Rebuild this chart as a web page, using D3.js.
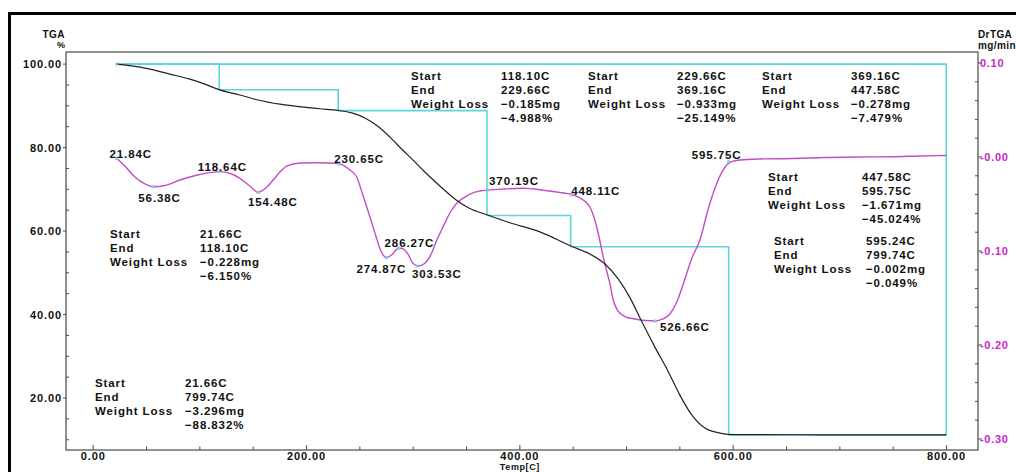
<!DOCTYPE html>
<html>
<head>
<meta charset="utf-8">
<script src="https://cdn.jsdelivr.net/npm/d3@7"></script>
<style>
  html, body { margin: 0; padding: 0; background: #fff; }
  svg { display: block; }
  text { font-family: "Liberation Sans", Arial, sans-serif; font-weight: bold; }
</style>
</head>
<body>
<svg id="chart" width="1016" height="472"></svg>
<script>
// ---- TGA curve (weight %, vs temperature C)
const tgaTemp = [22.2, 34.4, 53.2, 71.9, 90.7, 104.7, 117.8, 137.5, 154.4, 175, 193.7, 212.5, 229.4, 242.5, 254.7, 266.9, 278.2, 289.4, 300.6, 311.9, 325, 339, 353.1, 369, 390.6, 418.8, 448.8, 465.7, 479.8, 492, 503.3, 514.5, 526.6, 538.8, 550, 561.3, 573.5, 587.5, 601.6, 662.5, 730, 799.7];
const tgaPct = [100, 99.64, 98.8, 97.6, 96.4, 95.2, 93.9, 92.6, 91.4, 90.4, 89.8, 89.3, 88.9, 88.3, 87.1, 85.1, 82.5, 79.6, 76.8, 73.9, 70.8, 67.7, 65.4, 63.9, 62.0, 59.8, 56.3, 54.5, 52.1, 48.6, 44.0, 38.2, 32.2, 26.5, 20.7, 15.9, 12.8, 11.6, 11.22, 11.2, 11.18, 11.17];

// ---- DrTGA curve (mg/min, vs temperature C)
const dtgTemp = [21.9, 29.7, 39.1, 48.5, 56.3, 67.2, 81.3, 100, 118.8, 130, 137.5, 146.9, 154.7, 161.9, 168.7, 175, 181.3, 193.8, 206.3, 222, 231.3, 240.6, 246.9, 252.8, 259.4, 265, 269.7, 275, 280, 284.7, 288.4, 295, 299.7, 304.7, 311, 317.2, 322.2, 328.1, 334.4, 340.7, 348.5, 354.8, 362.5, 370.3, 386, 403.1, 423.5, 437.5, 450, 459.4, 465.7, 469.4, 473.2, 478.1, 481.6, 484.4, 487.5, 491.9, 498.5, 507.9, 517.3, 526.6, 534.1, 540.7, 547.2, 553.8, 561.3, 568.8, 576.3, 582.9, 590.6, 598.5, 606.3, 625, 656, 687.6, 718.8, 749.7, 775, 800];
const dtgVal = [-0.0014, -0.0096, -0.0213, -0.0287, -0.0316, -0.0303, -0.0245, -0.0186, -0.0156, -0.0181, -0.0227, -0.0309, -0.0376, -0.033, -0.0245, -0.016, -0.0096, -0.0064, -0.0061, -0.0064, -0.0074, -0.0138, -0.021, -0.0404, -0.0635, -0.084, -0.1, -0.107, -0.104, -0.098, -0.097, -0.103, -0.113, -0.116, -0.113, -0.1024, -0.0883, -0.0741, -0.0596, -0.0493, -0.0426, -0.0386, -0.0362, -0.0351, -0.034, -0.0333, -0.0356, -0.0378, -0.0404, -0.0457, -0.0532, -0.0638, -0.0798, -0.106, -0.1223, -0.1344, -0.1521, -0.1638, -0.1697, -0.1723, -0.174, -0.1745, -0.1723, -0.167, -0.154, -0.133, -0.1074, -0.0883, -0.0564, -0.0333, -0.0138, -0.005, -0.0032, -0.0021, -0.0016, -0.0005, 0, 0.0003, 0.0011, 0.0016];

// ---- DrTGA peak temperatures and their curve values
const peakTemp = [21.84, 56.38, 118.64, 154.48, 230.65, 274.87, 286.27, 303.53, 370.19, 448.11, 526.66, 595.75];
const peakVal = [-0.0014, -0.0316, -0.0156, -0.0376, -0.0074, -0.107, -0.097, -0.116, -0.0351, -0.0404, -0.1745, -0.005];

// ---- weight-loss steps
const stepStart = [21.66, 118.10, 229.66, 369.16, 447.58, 595.24];
const stepEnd = [118.10, 229.66, 369.16, 447.58, 595.75, 799.74];
const stepLossMg = [-0.228, -0.185, -0.933, -0.278, -1.671, -0.002];
const stepLossPct = [-6.150, -4.988, -25.149, -7.479, -45.024, -0.049];
// overall loss
const totalStart = 21.66, totalEnd = 799.74, totalLossMg = -3.296, totalLossPct = -88.832;

// ---- axis ticks
const xTicks = [0, 200, 400, 600, 800];
const xTickLabels = ["0.00", "200.00", "400.00", "600.00", "800.00"];
const yLeftTicks = [20, 40, 60, 80, 100];
const yLeftTickLabels = ["20.00", "40.00", "60.00", "80.00", "100.00"];
const yRightTicks = [-0.3, -0.2, -0.1, 0, 0.1];
const yRightTickLabels = ["-0.30", "-0.20", "-0.10", "-0.00", "0.10"];

// ---------------------------------------------------------------
const svg = d3.select("#chart");
const L = 66, R = 978, T = 52, B = 450;
const x = d3.scaleLinear().domain([-25.5, 829.5]).range([L, R]);
const yL = d3.scaleLinear().domain([7.55, 102.9]).range([B, T]);
const yR = d3.scaleLinear().domain([-0.3117, 0.1117]).range([B, T]);

const AX = "#4a4a4a";
const CYAN = "#5ad6dc";
const MAG = "#c24cc6";
const MAGTXT = "#cc22cc";
const FS = 11.5, LS = 0.9;

// outer frame
svg.append("path").attr("d", "M9.5,472 V13.5 H1016").attr("fill", "none")
  .attr("stroke", "#000").attr("stroke-width", 3);

// plot box
svg.append("rect").attr("x", L).attr("y", T).attr("width", R - L).attr("height", B - T)
  .attr("fill", "none").attr("stroke", AX).attr("stroke-width", 1.2);

// x axis ticks (pointing inward)
const gx = svg.append("g");
d3.range(0, 801, 50).forEach(v => {
  const major = xTicks.includes(v);
  gx.append("line").attr("x1", x(v)).attr("x2", x(v)).attr("y1", B).attr("y2", B - (major ? 5 : 3.5))
    .attr("stroke", AX).attr("stroke-width", 1);
});
gx.selectAll("text.xl").data(xTicks).enter().append("text")
  .attr("x", d => x(d)).attr("y", 459.5).attr("text-anchor", "middle")
  .attr("font-size", 11).attr("letter-spacing", 0.9).attr("fill", "#111")
  .text((d, i) => xTickLabels[i]);
svg.append("text").attr("x", x(400)).attr("y", 470).attr("text-anchor", "middle")
  .attr("font-size", 9).attr("letter-spacing", 0.6).attr("fill", "#111").text("Temp[C]");

// left axis ticks
const gl = svg.append("g");
d3.range(10, 101, 5).forEach(v => {
  const major = yLeftTicks.includes(v);
  if (major) {
    gl.append("line").attr("x1", L - 3).attr("x2", L).attr("y1", yL(v)).attr("y2", yL(v)).attr("stroke", AX);
  } else {
    gl.append("line").attr("x1", L).attr("x2", L + 3).attr("y1", yL(v)).attr("y2", yL(v)).attr("stroke", AX);
  }
});
gl.selectAll("text").data(yLeftTicks).enter().append("text")
  .attr("x", L - 4).attr("y", d => yL(d) + 4).attr("text-anchor", "end")
  .attr("font-size", 11).attr("letter-spacing", 0.9).attr("fill", "#111")
  .text((d, i) => yLeftTickLabels[i]);
svg.append("text").attr("x", 65).attr("y", 38).attr("text-anchor", "end")
  .attr("font-size", 10).attr("letter-spacing", 0.5).attr("fill", "#111").text("TGA");
svg.append("text").attr("x", 61).attr("y", 48).attr("text-anchor", "middle")
  .attr("font-size", 9).attr("fill", "#111").text("%");

// right axis ticks
const gr = svg.append("g");
d3.range(-30, 11, 2).forEach(k => {
  const v = k / 100;
  const major = k % 10 === 0;
  if (major) {
    gr.append("line").attr("x1", R).attr("x2", R + 4).attr("y1", yR(v)).attr("y2", yR(v)).attr("stroke", AX);
  } else {
    gr.append("line").attr("x1", R - 3).attr("x2", R).attr("y1", yR(v)).attr("y2", yR(v)).attr("stroke", AX);
  }
});
gr.selectAll("text").data(yRightTicks).enter().append("text")
  .attr("x", R + 2).attr("y", d => yR(d) + 4).attr("text-anchor", "start")
  .attr("font-size", 11).attr("letter-spacing", 0.7).attr("fill", MAGTXT)
  .text((d, i) => yRightTickLabels[i]);
svg.append("text").attr("x", 978).attr("y", 38).attr("font-size", 10)
  .attr("letter-spacing", 0.4).attr("fill", "#111").text("DrTGA");
svg.append("text").attr("x", 978).attr("y", 49).attr("font-size", 10)
  .attr("letter-spacing", 0.4).attr("fill", "#111").text("mg/min");

// cyan weight-loss steps
const levels = [100];
stepLossPct.forEach(p => levels.push(levels[levels.length - 1] + p));
const gc = svg.append("g").attr("fill", "none").attr("stroke", CYAN).attr("stroke-width", 1.6);
for (let i = 0; i < stepStart.length - 1; i++) {
  gc.append("path").attr("d",
    `M${x(stepStart[i])},${yL(levels[i])} H${x(stepEnd[i])} V${yL(levels[i + 1])}`);
}
const last = stepStart.length - 1;
gc.append("path").attr("d",
  `M${x(totalStart)},${yL(100)} H${x(totalEnd)} V${yL(100 + totalLossPct)} H${x(stepStart[last])}`);

// DrTGA curve
const lineR = d3.line().x(d => x(d[0])).y(d => yR(d[1])).curve(d3.curveMonotoneX);
svg.append("path").datum(d3.zip(dtgTemp, dtgVal)).attr("d", lineR)
  .attr("fill", "none").attr("stroke", MAG).attr("stroke-width", 1.4);

// TGA curve
const lineL = d3.line().x(d => x(d[0])).y(d => yL(d[1])).curve(d3.curveMonotoneX);
svg.append("path").datum(d3.zip(tgaTemp, tgaPct)).attr("d", lineL)
  .attr("fill", "none").attr("stroke", "#222").attr("stroke-width", 1.2);
// start marker of TGA
svg.append("path").attr("d", `M${x(tgaTemp[0]) - 2},${yL(100)} h4 M${x(tgaTemp[0])},${yL(100) - 2} v4`)
  .attr("stroke", "#7fb8d8").attr("stroke-width", 1);

// peak markers and labels
const peakOffsets = [[-7, 0], [-15, 15], [-22, -1], [-10, 14], [-5, -1], [-30, 15],
                     [-14, -1], [-5, 12], [1, -5], [0, 0], [5, 10], [-37, -3]];
const gp = svg.append("g");
peakTemp.forEach((t, i) => {
  const px = x(t), py = yR(peakVal[i]);
  gp.append("rect").attr("x", px - 1.5).attr("y", py - 1.5).attr("width", 3).attr("height", 3)
    .attr("fill", "#8cc4e4");
  gp.append("text").attr("x", px + peakOffsets[i][0]).attr("y", py + peakOffsets[i][1])
    .attr("font-size", FS).attr("letter-spacing", LS).attr("fill", "#111")
    .text(t.toFixed(2) + "C");
});

// weight-loss annotation blocks
function block(lx, vx, by, s, e, mg, pct) {
  const g = svg.append("g").attr("font-size", FS).attr("letter-spacing", LS).attr("fill", "#111");
  const dy = 14;
  [["Start", s.toFixed(2) + "C"], ["End", e.toFixed(2) + "C"],
   ["Weight Loss", mg.toFixed(3) + "mg"], ["", pct.toFixed(3) + "%"]].forEach((r, k) => {
    if (r[0]) g.append("text").attr("x", lx).attr("y", by + k * dy).attr("fill", "#111").text(r[0]);
    g.append("text").attr("x", vx).attr("y", by + k * dy).attr("fill", "#111").text(r[1].replace("-", "\u2212"));
  });
}
const blockPos = [[110, 200, 238], [411, 501, 80], [588, 677, 80], [762, 851, 80], [768, 862, 181], [774, 866, 245]];
stepStart.forEach((s, i) => {
  const p = blockPos[i];
  block(p[0], p[1], p[2], s, stepEnd[i], stepLossMg[i], stepLossPct[i]);
});
block(95, 185, 387, totalStart, totalEnd, totalLossMg, totalLossPct);
</script>
</body>
</html>
